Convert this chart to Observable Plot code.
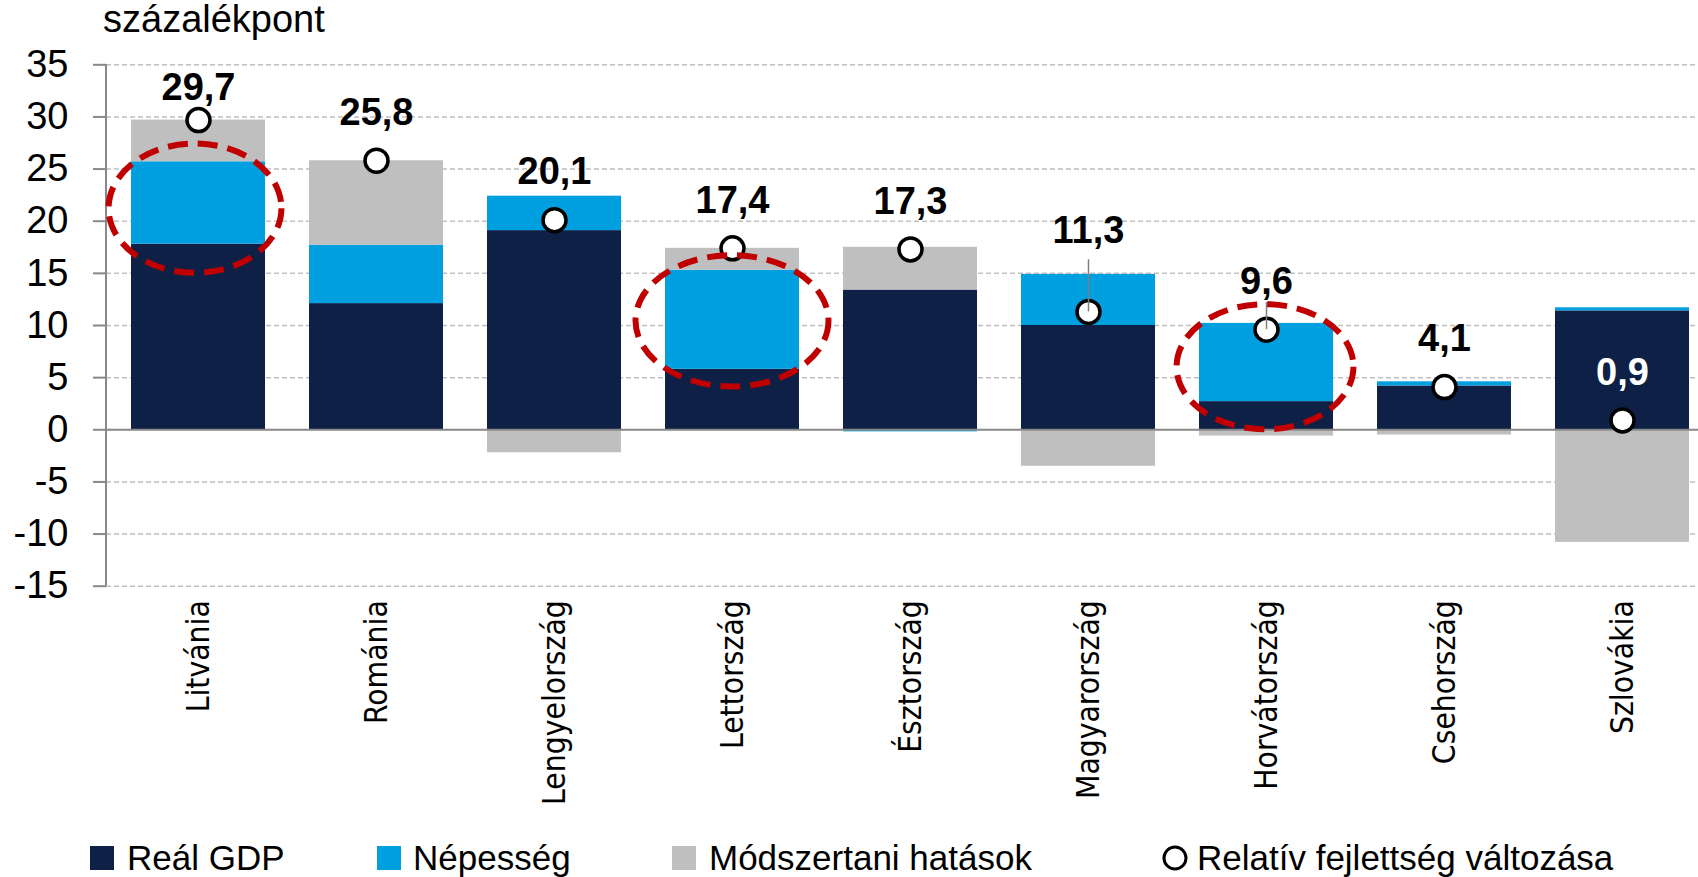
<!DOCTYPE html>
<html>
<head>
<meta charset="utf-8">
<script src="https://cdn.jsdelivr.net/npm/d3@7"></script>
<script src="https://cdn.jsdelivr.net/npm/@observablehq/plot@0.6"></script>
<style>
  html, body { margin: 0; padding: 0; background: #fff; overflow: hidden; width: 1698px; height: 877px; }
  #wrap { position: relative; width: 1698px; height: 877px; }
  #unit { position: absolute; left: 103px; top: 0; font-family: "Liberation Sans", Arial, sans-serif; font-size: 38px; line-height: 38px; color: #000; }
  #chart { position: absolute; left: 0; top: 0; }
  #legend { position: absolute; left: 0; top: 830px; }
  .xlabels text { font-stretch: condensed; }
</style>
</head>
<body>
<div id="wrap">
  <div id="chart"></div>
  <div id="unit">százalékpont</div>
  <div id="legend"></div>
</div>
<script>
// ---- data ----
const countries = ["Litvánia", "Románia", "Lengyelország", "Lettország", "Észtország", "Magyarország", "Horvátország", "Csehország", "Szlovákia"];
const realGDP   = [17.8, 12.1, 19.1, 5.8, 13.4, 10.0, 2.7, 4.2, 11.4];
const population = [7.9, 5.6, 3.3, 9.5, -0.2, 4.9, 7.5, 0.4, 0.3];
const methodEffects = [4.0, 8.1, -2.2, 2.1, 4.1, -3.5, -0.6, -0.5, -10.8];
const relativeDevelopment = [29.7, 25.8, 20.1, 17.4, 17.3, 11.3, 9.6, 4.1, 0.9];
const seriesNames = ["Reál GDP", "Népesség", "Módszertani hatások"];
const legendCircleLabel = "Relatív fejlettség változása";
const yTicks = [35, 30, 25, 20, 15, 10, 5, 0, -5, -10, -15];
const highlighted = ["Litvánia", "Lettország", "Horvátország"];

// ---- build tables ----
const seriesValues = [realGDP, population, methodEffects];
const stacked = [];
countries.forEach((c, i) => seriesNames.forEach((s, j) => stacked.push({country: c, series: s, value: seriesValues[j][i]})));
const points = countries.map((c, i) => ({country: c, value: relativeDevelopment[i]}));

const colors = ["#0E2046", "#009FDF", "#BFBFBF"];
const fmt = v => v.toFixed(1).replace(".", ",");

// label offsets (px above point)
const labelShift = {"Litvánia": 32, "Magyarország": 81};
const Y0 = 585.7, Y1 = 64.3;
const pxPerUnit = (Y0 - Y1) / 50;
const leaderTop = {"Magyarország": 16.3, "Horvátország": 12.2};
// ellipse annotations: center value (y), radius in y units, x radius as fraction of bar width
const ellipseSpec = {
  "Litvánia":     {cy: 21.2, ry: 6.2, rxf: 0.645, dx: -3},
  "Lettország":   {cy: 10.4, ry: 6.3, rxf: 0.72, dx: 0},
  "Horvátország": {cy: 6.0,  ry: 6.0, rxf: 0.66, dx: -1}
};

const annotations = (index, scales) => {
  const g = d3.create("svg:g");
  const bwRaw = scales.x.bandwidth;
  const bw = typeof bwRaw === "function" ? bwRaw() : (bwRaw ?? 134);
  highlighted.forEach(c => {
    const e = ellipseSpec[c];
    const cx = scales.x(c) + bw / 2 + e.dx;
    g.append("ellipse")
      .attr("cx", cx).attr("cy", scales.y(e.cy))
      .attr("rx", bw * e.rxf).attr("ry", Math.abs(scales.y(0) - scales.y(e.ry)))
      .attr("fill", "none").attr("stroke", "#C00000")
      .attr("stroke-width", 6).attr("stroke-dasharray", "20,10");
  });
  return g.node();
};
const axisLine = (index, scales) => {
  const g = d3.create("svg:g");
  g.append("line").attr("x1", 106).attr("x2", 106)
    .attr("y1", scales.y(35)).attr("y2", scales.y(-15))
    .attr("stroke", "#888").attr("stroke-width", 2);
  return g.node();
};

const plot = Plot.plot({
  width: 1698,
  height: 830,
  marginLeft: 106,
  marginRight: 0,
  marginTop: Y1,
  marginBottom: 830 - Y0,
  style: {fontFamily: "'Liberation Sans', Arial, sans-serif", background: "white", color: "black"},
  x: {domain: countries, range: [106, 1714], paddingInner: 0.25, paddingOuter: 0.125},
  y: {domain: [-15, 35], range: [Y0, Y1]},
  color: {domain: seriesNames, range: colors},
  marks: [
    Plot.ruleY(yTicks.filter(d => d !== 0), {stroke: "#BFBFBF", strokeWidth: 1.5, strokeDasharray: "5,3"}),
    Plot.barY(stacked, {x: "country", y: "value", fill: "series", order: seriesNames}),
    Plot.ruleY([0], {stroke: "#888", strokeWidth: 2}),
    axisLine,
    Plot.axisY({ticks: yTicks, tickSize: 13, tickPadding: 25, tickFormat: d => String(d), fontSize: 38, stroke: "#888", strokeWidth: 2, fill: "black", label: null}),
    Plot.axisX({tickRotate: -90, tickSize: 0, tickPadding: 14, fontSize: 31.5, fontFamily: "'DejaVu Sans Condensed', 'DejaVu Sans', Verdana, sans-serif", fill: "black", label: null, className: "xlabels"}),
    Plot.dot(points, {x: "country", y: "value", r: 11.5, fill: "white", stroke: "black", strokeWidth: 3.5}),
    annotations,
    Plot.ruleX(points.filter(d => leaderTop[d.country] != null), {x: "country", y1: "value", y2: d => leaderTop[d.country], stroke: "#7F7F7F", strokeWidth: 1.5}),
    Plot.text(points, {
      x: "country",
      y: d => d.value + (labelShift[d.country] ?? 48) / pxPerUnit,
      text: d => fmt(d.value),
      fontSize: 38, fontWeight: "bold",
      fill: d => d.country === "Szlovákia" ? "white" : "black"
    })
  ]
});
document.getElementById("chart").appendChild(plot);

// ---- legend ----
const lg = d3.select("#legend").append("svg").attr("width", 1698).attr("height", 47)
  .style("font-family", "'Liberation Sans', Arial, sans-serif").style("font-size", "35px");
const base = 40;
const legendItems = [
  {type: "rect", color: colors[0], sx: 90, tx: 127, label: seriesNames[0]},
  {type: "rect", color: colors[1], sx: 377, tx: 413, label: seriesNames[1]},
  {type: "rect", color: colors[2], sx: 672, tx: 709, label: seriesNames[2]},
  {type: "circle", sx: 1175, tx: 1197, label: legendCircleLabel}
];
legendItems.forEach(it => {
  if (it.type === "rect") {
    lg.append("rect").attr("x", it.sx).attr("y", base - 24).attr("width", 24).attr("height", 24).attr("fill", it.color);
  } else {
    lg.append("circle").attr("cx", it.sx).attr("cy", base - 12).attr("r", 11).attr("fill", "white").attr("stroke", "black").attr("stroke-width", 3);
  }
  lg.append("text").attr("x", it.tx).attr("y", base).attr("fill", "black").text(it.label);
});
</script>
</body>
</html>
